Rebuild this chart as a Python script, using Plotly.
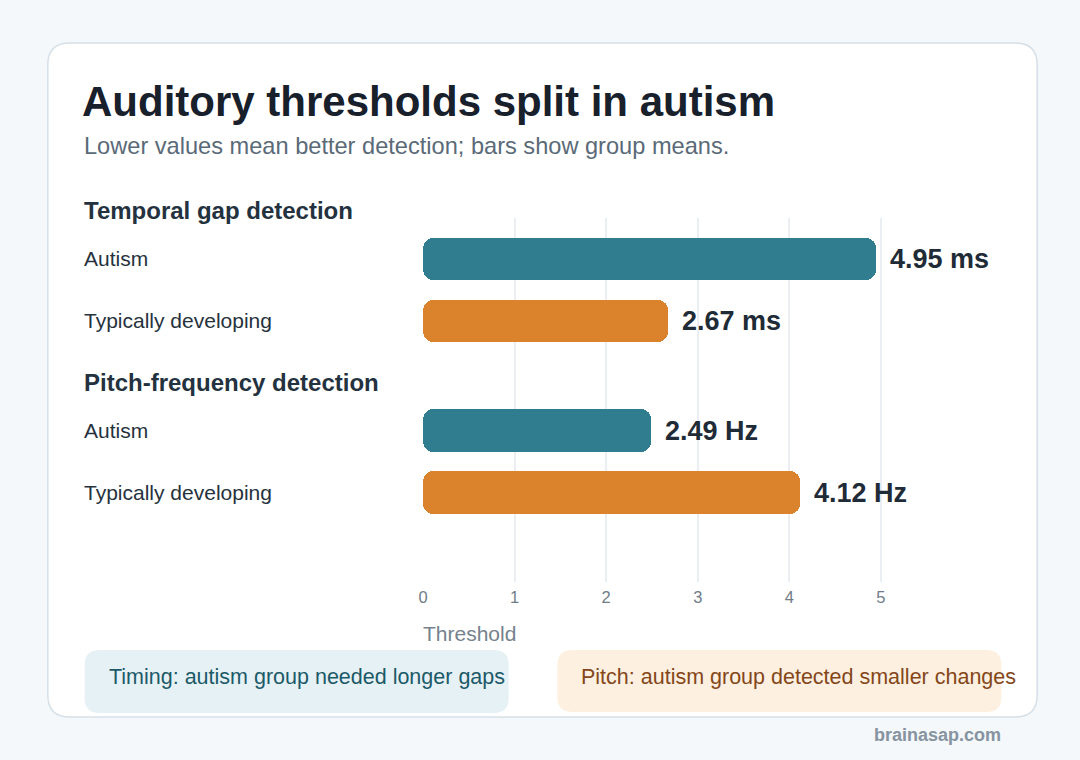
import plotly.graph_objects as go

# ---- data ----
metrics = ["Temporal gap detection", "Pitch-frequency detection"]
groups = ["Autism", "Typically developing"]
temporal_values = [4.95, 2.67]
pitch_values = [2.49, 4.12]
units = ["ms", "Hz"]
x_ticks = [0, 1, 2, 3, 4, 5]
notes = ["Timing: autism group needed longer gaps",
         "Pitch: autism group detected smaller changes"]

# ---- layout helpers ----
W, H = 1080, 760
def xp(px): return px / W
def yp(py): return 1 - py / H

TEAL = "#2f7d8f"
ORANGE = "#db822c"
FONT = "Liberation Sans, Arial, Helvetica, sans-serif"

group_colors = [TEAL, ORANGE]
row_pos = [[0, 1], [2.77, 3.77]]
all_values = [temporal_values, pitch_values]

fig = go.Figure()

for mi, vals in enumerate(all_values):
    for gi, v in enumerate(vals):
        y = row_pos[mi][gi]
        c = group_colors[gi]
        # right half (rounded at value end)
        fig.add_trace(go.Bar(x=[v * 0.6], base=[v * 0.4], y=[y], orientation="h",
                             width=0.69, marker=dict(color=c, line=dict(width=0), cornerradius=10),
                             showlegend=False, hoverinfo="skip"))
        # left half (rounded at zero end)
        fig.add_trace(go.Bar(x=[-v * 0.6], base=[v * 0.6], y=[y], orientation="h",
                             width=0.69, marker=dict(color=c, line=dict(width=0), cornerradius=10),
                             showlegend=False, hoverinfo="skip"))

annotations = []
# title & subtitle
annotations.append(dict(text="<b>Auditory thresholds split in autism</b>", x=xp(75), y=yp(101),
                        xref="paper", yref="paper", xanchor="left", yanchor="middle", showarrow=False,
                        font=dict(family=FONT, size=42, color="#17202b")))
annotations.append(dict(text="Lower values mean better detection; bars show group means.", x=xp(77), y=yp(146),
                        xref="paper", yref="paper", xanchor="left", yanchor="middle", showarrow=False,
                        font=dict(family=FONT, size=23.6, color="#5a6a78")))
# metric headers
header_py = [210, 382]
for mi, m in enumerate(metrics):
    annotations.append(dict(text=f"<b>{m}</b>", x=xp(77), y=yp(header_py[mi]),
                            xref="paper", yref="paper", xanchor="left", yanchor="middle", showarrow=False,
                            font=dict(family=FONT, size=24, color="#243240")))
    for gi, g in enumerate(groups):
        y = row_pos[mi][gi]
        v = all_values[mi][gi]
        annotations.append(dict(text=g, x=xp(77), y=y, xref="paper", yref="y",
                                xanchor="left", yanchor="middle", showarrow=False,
                                font=dict(family=FONT, size=21, color="#26323d")))
        annotations.append(dict(text=f"<b>{v:.2f} {units[mi]}</b>", x=v, y=y, xref="x", yref="y",
                                xanchor="left", yanchor="middle", xshift=12, showarrow=False,
                                font=dict(family=FONT, size=27, color="#1f2b36")))
# axis title
annotations.append(dict(text="Threshold", x=xp(418), y=yp(633), xref="paper", yref="paper",
                        xanchor="left", yanchor="middle", showarrow=False,
                        font=dict(family=FONT, size=21, color="#75828d")))
# notes
annotations.append(dict(text=notes[0], x=xp(102), y=yp(677), xref="paper", yref="paper",
                        xanchor="left", yanchor="middle", showarrow=False,
                        font=dict(family=FONT, size=21.5, color="#1c5a68")))
annotations.append(dict(text=notes[1], x=xp(577), y=yp(677), xref="paper", yref="paper",
                        xanchor="left", yanchor="middle", showarrow=False,
                        font=dict(family=FONT, size=21.5, color="#84471a")))
annotations.append(dict(text="<b>brainasap.com</b>", x=xp(1003), y=yp(735), xref="paper", yref="paper",
                        xanchor="right", yanchor="middle", showarrow=False,
                        font=dict(family=FONT, size=18, color="#8693a0")))

def rrect(x0, y0, x1, y1, r):
    # rounded rectangle path in paper coords from pixel coords
    rx, ry = r / W, r / H
    X0, X1 = xp(x0), xp(x1)
    Y0, Y1 = yp(y0), yp(y1)  # Y0 top (larger), Y1 bottom
    return (f"M {X0+rx},{Y0} L {X1-rx},{Y0} Q {X1},{Y0} {X1},{Y0-ry} "
            f"L {X1},{Y1+ry} Q {X1},{Y1} {X1-rx},{Y1} "
            f"L {X0+rx},{Y1} Q {X0},{Y1} {X0},{Y1+ry} "
            f"L {X0},{Y0-ry} Q {X0},{Y0} {X0+rx},{Y0} Z")

shapes = [
    dict(type="path", path=rrect(43, 43, 1037, 717, 22), xref="paper", yref="paper",
         fillcolor="#ffffff", line=dict(color="#d6e0e8", width=1.5), layer="below"),
    dict(type="path", path=rrect(80, 650, 506, 713, 15), xref="paper", yref="paper",
         fillcolor="#e6f1f6", line=dict(width=0), layer="below"),
    dict(type="path", path=rrect(555, 650, 1001, 712, 15), xref="paper", yref="paper",
         fillcolor="#fdf0e0", line=dict(width=0), layer="below"),
]

x_max = 5.95
fig.update_layout(
    width=W, height=H,
    margin=dict(l=0, r=0, t=0, b=0),
    paper_bgcolor="#f4f8fb",
    plot_bgcolor="rgba(0,0,0,0)",
    barmode="overlay",
    bargap=0,
    showlegend=False,
    annotations=annotations,
    shapes=shapes,
    xaxis=dict(domain=[xp(420), xp(420 + x_max * 92)], range=[0, x_max],
               tickvals=x_ticks, ticktext=[str(t) for t in x_ticks],
               showgrid=True, gridcolor="#ebeff3", gridwidth=2,
               zeroline=False, showline=False, ticks="", ticklabelstandoff=3,
               tickfont=dict(family=FONT, size=16.5, color="#6f7c88"), fixedrange=True),
    yaxis=dict(domain=[yp(582), yp(218)], range=[5.21, -0.66], visible=False,
               showgrid=False, zeroline=False, fixedrange=True),
    font=dict(family=FONT),
)

fig.write_html("out.html")
